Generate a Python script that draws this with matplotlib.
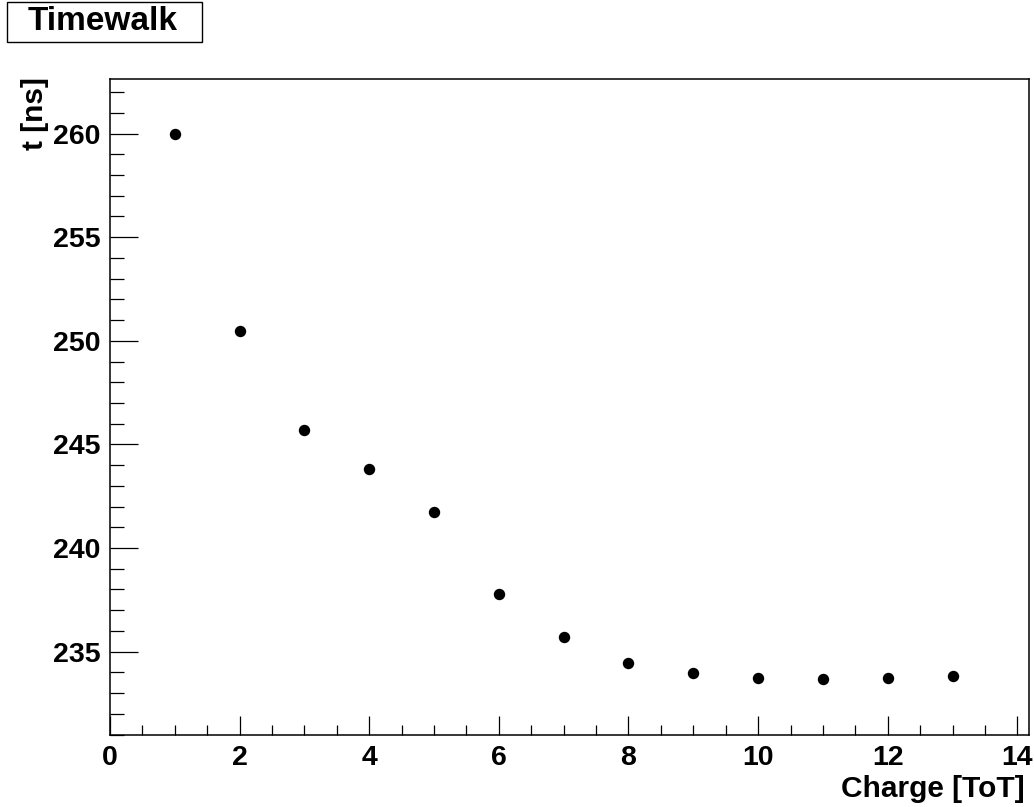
import matplotlib
matplotlib.use("Agg")
import matplotlib.pyplot as plt
from matplotlib.patches import Rectangle
from matplotlib.ticker import MultipleLocator

# Timewalk data
charge = [1, 2, 3, 4, 5, 6, 7, 8, 9, 10, 11, 12, 13]
t_ns = [259.98, 250.47, 245.68, 243.80, 241.72, 237.76, 235.73,
        234.47, 233.98, 233.72, 233.67, 233.74, 233.83]

plt.rcParams["font.family"] = ["Liberation Sans", "DejaVu Sans"]
plt.rcParams["font.weight"] = "bold"

W, H = 1034, 807
fig = plt.figure(figsize=(W / 100, H / 100), dpi=100)
ax = fig.add_axes([110 / W, 1 - 735 / H, (1029 - 110) / W, (735 - 79) / H])

ax.plot(charge, t_ns, "o", color="black", markersize=7.2)

ax.set_xlim(0, 14.18)
ax.set_ylim(230.98, 262.63)

ax.xaxis.set_major_locator(MultipleLocator(2))
ax.xaxis.set_minor_locator(MultipleLocator(0.5))
ax.yaxis.set_major_locator(MultipleLocator(5))
ax.yaxis.set_minor_locator(MultipleLocator(1))

ax.tick_params(axis="x", which="major", direction="in", length=13.7, width=0.9,
               labelsize=20.5, pad=7)
ax.tick_params(axis="x", which="minor", direction="in", length=7, width=0.9)
ax.tick_params(axis="y", which="major", direction="in", length=20, width=0.9,
               labelsize=20.5, pad=7)
ax.tick_params(axis="y", which="minor", direction="in", length=10, width=0.9)
for lab in ax.get_xticklabels() + ax.get_yticklabels():
    lab.set_fontweight("bold")

for sp in ax.spines.values():
    sp.set_linewidth(1.1)

fig.text(1025 / W, 1 - 797 / H, "Charge [ToT]", ha="right", va="baseline",
         fontsize=21.5, fontweight="bold")
fig.text(35 / W, 1 - 77 / H, "t [ns]", ha="center", va="top", rotation=90,
         fontsize=21.5, fontweight="bold")

# title box
fig.patches.append(Rectangle((7 / W, 1 - 42 / H), 195 / W, 40 / H,
                             transform=fig.transFigure, fill=False,
                             edgecolor="black", linewidth=1.0))
fig.text(103 / W, 1 - 22 / H, "Timewalk", ha="center", va="center",
         fontsize=24, fontweight="bold")

fig.savefig("out.png", dpi=100)
